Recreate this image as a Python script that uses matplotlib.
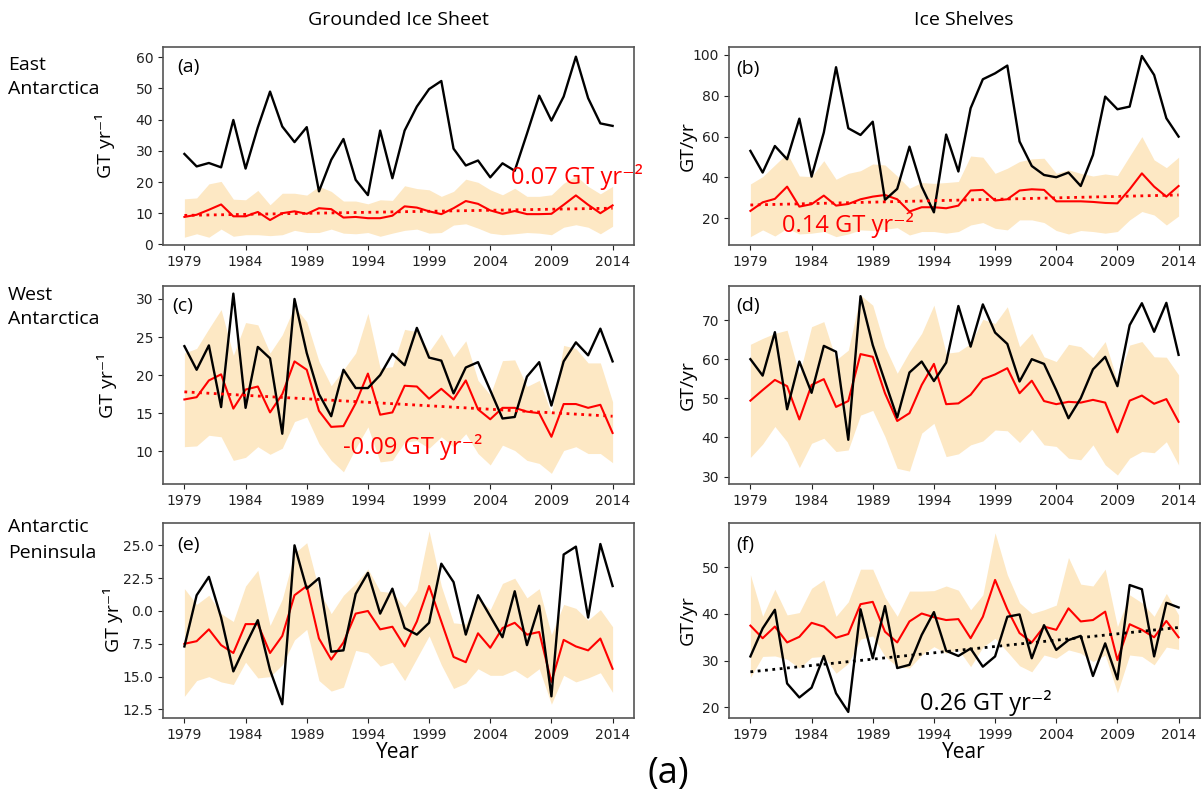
import numpy as np
import matplotlib.pyplot as plt

TXT = ['Open Sans', 'DejaVu Sans']

years = list(range(1979, 2015))
xticks = [1979, 1984, 1989, 1994, 1999, 2004, 2009, 2014]

# (a) East Antarctica, grounded ice sheet
a_black = [29.0, 25.0, 26.1, 24.7, 39.9, 24.3, 37.5, 49.0, 37.8, 32.8, 37.6, 17.0,
           27.1, 33.8, 20.7, 15.8, 36.5, 21.2, 36.5, 44.2, 49.8, 52.4, 30.7, 25.3,
           26.9, 21.5, 26.0, 23.6, 35.5, 47.7, 39.7, 47.4, 60.2, 46.9, 38.8, 38.0]
a_red = [8.8, 9.5, 11.1, 12.8, 9.0, 9.0, 10.4, 7.8, 10.0, 10.6, 9.8, 11.6,
         11.3, 8.6, 8.8, 8.4, 8.4, 9.2, 12.2, 11.8, 10.6, 9.7, 11.6, 13.9,
         13.0, 10.9, 9.8, 10.7, 9.7, 9.7, 9.8, 12.7, 15.7, 12.7, 10.0, 12.5]
a_hi = [14.6, 14.9, 19.4, 20.2, 14.5, 14.3, 17.3, 12.7, 16.4, 16.4, 15.8, 18.6,
        17.0, 13.9, 13.9, 13.0, 14.3, 14.1, 18.8, 17.9, 17.5, 15.4, 17.0, 20.9,
        19.9, 17.5, 15.9, 18.0, 15.4, 15.4, 15.9, 19.6, 22.0, 18.6, 16.2, 18.6]
a_lo = [2.3, 3.4, 2.3, 4.9, 2.6, 3.1, 3.1, 2.8, 3.1, 4.5, 3.8, 3.8,
        4.9, 3.6, 3.4, 3.8, 2.6, 3.6, 4.5, 4.9, 3.6, 3.8, 6.2, 6.6,
        5.2, 3.6, 3.1, 3.4, 3.8, 3.6, 3.1, 5.5, 6.3, 5.5, 3.4, 5.8]
a_trend = [9.3, 11.6]

# (b) East Antarctica, ice shelves
b_black = [53.0, 42.4, 55.4, 48.9, 68.8, 40.4, 62.0, 94.0, 64.1, 60.8, 67.3, 29.0,
           34.4, 55.1, 35.5, 22.9, 61.0, 42.9, 73.9, 88.1, 91.0, 94.8, 57.6, 45.6,
           41.2, 40.1, 42.4, 35.8, 51.0, 79.6, 73.4, 74.7, 99.5, 90.2, 69.0, 60.0]
b_red = [23.6, 27.8, 29.5, 35.5, 25.7, 26.9, 31.1, 26.2, 27.0, 29.3, 30.6, 31.4,
         29.3, 23.3, 25.4, 25.4, 24.9, 26.2, 33.6, 33.9, 28.7, 29.3, 33.6, 34.2,
         33.9, 28.3, 28.3, 28.3, 28.0, 27.5, 27.3, 34.2, 42.0, 35.5, 30.6, 35.8]
b_hi = [36.8, 40.4, 46.1, 51.8, 40.7, 40.4, 48.2, 39.1, 42.0, 43.3, 46.6, 46.1,
        40.7, 34.7, 37.5, 37.1, 37.5, 38.0, 50.5, 49.9, 42.0, 44.5, 47.8, 49.1,
        49.4, 42.0, 43.7, 42.0, 40.7, 41.7, 40.9, 50.5, 60.0, 48.6, 44.8, 49.9]
b_lo = [11.0, 14.3, 11.3, 15.1, 12.3, 12.7, 13.5, 11.0, 12.3, 14.3, 14.0, 14.6,
        15.4, 11.8, 13.5, 13.5, 12.7, 13.5, 16.7, 17.9, 15.1, 14.3, 19.2, 19.2,
        17.9, 14.0, 12.3, 14.0, 13.5, 12.7, 13.5, 19.2, 23.3, 21.6, 16.7, 21.1]
b_trend = [26.5, 31.4]

# (c) West Antarctica, grounded ice sheet
c_black = [23.8, 20.7, 23.9, 15.8, 30.7, 15.7, 23.7, 22.2, 12.3, 30.0, 22.9, 17.5,
           14.6, 20.7, 18.3, 18.3, 20.0, 22.8, 21.3, 26.2, 22.3, 21.9, 17.6, 21.0,
           21.7, 18.0, 14.3, 14.5, 19.8, 21.7, 16.0, 21.8, 24.3, 22.6, 26.1, 21.8]
c_red = [16.8, 17.1, 19.3, 20.1, 15.6, 18.1, 18.5, 15.1, 17.5, 21.8, 20.7, 15.3,
         13.2, 13.3, 16.3, 20.2, 14.8, 15.1, 18.6, 18.5, 16.9, 18.2, 16.8, 19.3,
         15.5, 14.2, 15.7, 15.7, 15.2, 15.0, 11.9, 16.2, 16.2, 15.7, 16.1, 12.4]
c_hi = [22.9, 23.5, 26.1, 28.6, 22.6, 26.9, 26.6, 22.9, 25.3, 29.0, 27.0, 21.8,
        18.6, 20.7, 22.9, 28.1, 20.9, 21.1, 26.0, 25.7, 23.1, 25.4, 22.4, 24.5,
        19.3, 17.4, 21.9, 22.0, 18.5, 19.3, 15.0, 23.9, 23.5, 21.6, 21.6, 16.5]
c_lo = [10.6, 10.7, 12.1, 11.9, 8.8, 9.2, 10.6, 9.6, 10.4, 13.9, 14.5, 11.0,
        8.8, 7.3, 10.4, 13.2, 8.6, 8.8, 11.2, 11.4, 10.4, 11.9, 10.6, 12.3,
        9.7, 8.2, 10.8, 10.1, 8.8, 8.4, 7.1, 10.1, 10.6, 9.7, 9.7, 8.5]
c_trend = [17.8, 14.6]

# (d) West Antarctica, ice shelves
d_black = [60.0, 55.8, 66.9, 47.2, 59.4, 51.4, 63.4, 61.9, 39.4, 76.1, 63.6, 54.3,
           45.1, 56.6, 59.4, 54.4, 59.1, 73.6, 63.2, 74.0, 66.8, 63.9, 54.3, 60.0,
           58.8, 52.1, 44.9, 50.0, 57.4, 60.6, 53.1, 68.7, 74.3, 67.0, 74.4, 61.1]
d_red = [49.4, 52.1, 54.7, 53.1, 44.6, 53.4, 54.9, 47.8, 49.3, 61.3, 60.6, 51.3,
         44.2, 46.2, 53.4, 58.8, 48.5, 48.7, 50.9, 54.9, 56.1, 57.7, 51.3, 54.5,
         49.3, 48.5, 49.1, 48.9, 49.6, 48.9, 41.3, 49.4, 50.7, 48.6, 49.8, 44.0]
d_hi = [63.8, 65.3, 66.6, 67.4, 56.0, 68.3, 69.6, 59.8, 62.3, 76.4, 73.8, 63.2,
        56.4, 61.9, 66.6, 73.8, 61.5, 61.9, 64.0, 70.2, 69.1, 73.4, 63.2, 66.6,
        60.6, 59.4, 63.8, 63.2, 60.4, 64.5, 54.3, 63.6, 64.5, 60.6, 60.5, 56.0]
d_lo = [34.9, 38.3, 42.8, 38.9, 32.3, 38.5, 39.8, 36.4, 36.8, 45.7, 46.9, 40.2,
        32.1, 31.4, 41.1, 43.6, 35.1, 35.8, 38.1, 39.1, 41.9, 41.7, 38.7, 42.1,
        38.1, 37.7, 34.7, 34.3, 38.1, 33.0, 30.4, 34.7, 36.4, 36.1, 38.9, 33.0]

# (e) Antarctic Peninsula, grounded ice sheet
e_black = [17.3, 21.2, 22.6, 19.5, 15.4, 17.4, 19.3, 15.5, 12.9, 25.0, 21.7, 22.5,
           16.9, 17.0, 21.3, 22.9, 19.8, 21.7, 18.7, 18.2, 19.1, 23.6, 22.2, 18.2,
           21.2, 19.6, 18.0, 21.5, 17.4, 20.4, 13.5, 24.3, 24.9, 19.5, 25.1, 21.9]
e_red = [17.5, 17.7, 18.6, 17.4, 16.8, 19.0, 19.0, 16.8, 18.1, 21.2, 21.9, 17.9,
         16.3, 17.6, 19.8, 20.0, 18.6, 18.8, 17.3, 19.2, 21.9, 19.2, 16.5, 16.1,
         18.3, 17.2, 18.7, 19.1, 18.2, 18.4, 14.6, 17.8, 17.3, 17.0, 17.9, 15.6]
e_hi = [21.7, 20.5, 21.2, 19.8, 19.2, 21.9, 23.1, 18.9, 20.9, 24.4, 25.2, 21.6,
        19.8, 21.2, 22.1, 23.2, 21.5, 21.4, 20.3, 21.6, 26.1, 21.9, 19.1, 19.0,
        21.0, 20.1, 22.1, 22.5, 21.0, 21.7, 18.2, 20.5, 20.2, 19.3, 20.1, 18.8]
e_lo = [13.5, 14.7, 15.0, 14.6, 14.4, 16.1, 14.9, 15.0, 15.9, 17.8, 18.6, 14.7,
        13.9, 14.2, 17.0, 16.8, 15.8, 16.1, 14.7, 16.4, 18.1, 15.9, 14.1, 14.5,
        15.6, 15.1, 15.1, 15.5, 14.9, 15.6, 12.9, 15.1, 14.6, 14.9, 15.3, 13.8]
e_ticks = [12.5, 15.0, 17.5, 20.0, 22.5, 25.0]
e_ticklabels = ['12.5', '15.0', '7.5', '0.0', '22.5', '25.0']

# (f) Antarctic Peninsula, ice shelves
f_black = [30.9, 36.9, 40.9, 25.1, 22.1, 24.2, 31.0, 23.0, 19.0, 41.0, 30.5, 41.7,
           28.4, 29.1, 35.5, 40.4, 32.1, 31.0, 32.6, 28.7, 30.9, 39.4, 39.9, 30.5,
           37.6, 32.3, 34.4, 35.3, 26.7, 33.7, 26.0, 46.2, 45.3, 30.9, 42.4, 41.4]
f_red = [37.5, 34.8, 37.3, 33.9, 35.1, 38.1, 37.3, 34.9, 35.7, 42.1, 42.6, 36.2,
         33.9, 38.4, 40.1, 39.3, 38.7, 38.9, 34.8, 39.4, 47.3, 41.0, 35.9, 33.9,
         37.3, 36.6, 41.2, 38.4, 38.7, 40.5, 30.1, 37.8, 36.6, 35.0, 38.5, 35.0]
f_hi = [48.4, 39.5, 45.3, 39.8, 40.3, 45.5, 47.3, 39.5, 42.6, 49.6, 49.6, 43.6,
        39.5, 44.9, 44.9, 45.0, 46.0, 45.1, 40.9, 44.1, 57.4, 48.4, 42.4, 40.1,
        40.9, 41.9, 52.1, 46.4, 46.0, 49.6, 37.3, 44.1, 42.4, 39.5, 44.4, 39.8]
f_lo = [26.4, 30.9, 31.0, 30.3, 28.4, 30.7, 30.9, 27.3, 29.4, 34.6, 35.3, 30.9,
        28.7, 28.4, 31.2, 33.0, 31.6, 32.4, 28.7, 32.9, 34.8, 31.9, 28.9, 27.6,
        31.2, 30.5, 32.3, 31.6, 29.8, 31.2, 23.1, 31.2, 30.9, 29.1, 32.9, 32.4]
f_trend = [27.6, 37.1]

trend_years = [1979, 2014]

W, H = 1201, 796
fig = plt.figure(figsize=(12.01, 7.96), dpi=100)


def add_ax(left, top, right, bottom):
    return fig.add_axes([left / W, 1 - bottom / H, (right - left) / W, (bottom - top) / H])


def ftext(x, y, s, **kw):
    # text placed in figure pixels, measured from the top-left corner
    fig.text(x / W, 1 - y / H, s, family=TXT, **kw)


FILL = '#fde8c4'


def panel(ax, black, red, hi, lo, ylim, yticks, letter, lpos):
    ax.fill_between(years, lo, hi, color=FILL, lw=0)
    ax.plot(years, red, color='red', lw=1.5)
    ax.plot(years, black, color='black', lw=1.7)
    ax.set_ylim(*ylim)
    ax.set_yticks(yticks)
    ax.set_xticks(xticks)
    ax.tick_params(labelsize=10, colors='#222222', length=3.5)
    for s in ax.spines.values():
        s.set_color('#555555')
        s.set_linewidth(1.2)
    ax.text(lpos[0], lpos[1], letter, transform=ax.transAxes, fontsize=14,
            family=TXT, va='center', ha='left')


LX0, LX1 = 163, 634
RX0, RX1 = 729, 1200
rows = [(47, 245), (286, 484), (523, 718)]

ax_a = add_ax(LX0, rows[0][0], LX1, rows[0][1])
panel(ax_a, a_black, a_red, a_hi, a_lo, (-0.2, 63.3), [0, 10, 20, 30, 40, 50, 60], '(a)', (0.03, 0.9))
ax_a.plot(trend_years, a_trend, color='red', ls=':', lw=2)

ax_b = add_ax(RX0, rows[0][0], RX1, rows[0][1])
panel(ax_b, b_black, b_red, b_hi, b_lo, (6.9, 103.9), [20, 40, 60, 80, 100], '(b)', (0.015, 0.89))
ax_b.plot(trend_years, b_trend, color='red', ls=':', lw=2)

ax_c = add_ax(LX0, rows[1][0], LX1, rows[1][1])
panel(ax_c, c_black, c_red, c_hi, c_lo, (5.7, 31.7), [10, 15, 20, 25, 30], '(c)', (0.02, 0.9))
ax_c.plot(trend_years, c_trend, color='red', ls=':', lw=2)

ax_d = add_ax(RX0, rows[1][0], RX1, rows[1][1])
panel(ax_d, d_black, d_red, d_hi, d_lo, (28.1, 78.7), [30, 40, 50, 60, 70], '(d)', (0.015, 0.9))

ax_e = add_ax(LX0, rows[2][0], LX1, rows[2][1])
panel(ax_e, e_black, e_red, e_hi, e_lo, (11.85, 26.7), e_ticks, '(e)', (0.03, 0.887))
ax_e.set_yticklabels(e_ticklabels)

ax_f = add_ax(RX0, rows[2][0], RX1, rows[2][1])
panel(ax_f, f_black, f_red, f_hi, f_lo, (17.7, 59.5), [20, 30, 40, 50], '(f)', (0.015, 0.887))
ax_f.plot(trend_years, f_trend, color='black', ls=':', lw=2)

# trend annotations
ftext(511, 177, '0.07 GT yr⁻²', color='red', fontsize=17, va='center')
ftext(782, 225, '0.14 GT yr⁻²', color='red', fontsize=17, va='center')
ftext(343, 447, '-0.09 GT yr⁻²', color='red', fontsize=17, va='center')
ftext(920, 703, '0.26 GT yr⁻²', color='black', fontsize=17, va='center')

# column titles and row labels
ftext(398, 20, 'Grounded Ice Sheet', fontsize=14, ha='center', va='center')
ftext(964, 20, 'Ice Shelves', fontsize=14, ha='center', va='center')
ftext(8, 77, 'East\nAntarctica', fontsize=14, ha='left', va='center', linespacing=1.5)
ftext(8, 307, 'West\nAntarctica', fontsize=14, ha='left', va='center', linespacing=1.5)
ftext(8, 540, 'Antarctic\nPeninsula', fontsize=14, ha='left', va='center', linespacing=1.5)

# y labels
ftext(105, 146, 'GT yr⁻¹', fontsize=14, rotation=90, ha='center', va='center')
ftext(107, 385, 'GT yr⁻¹', fontsize=14, rotation=90, ha='center', va='center')
ftext(113, 620, 'GT yr⁻¹', fontsize=14, rotation=90, ha='center', va='center')
for yc in [146, 385, 620]:
    ftext(688, yc, 'GT/yr', fontsize=14, rotation=90, ha='center', va='center')

# x labels and figure tag
ftext(398, 752, 'Year', fontsize=15, ha='center', va='center')
ftext(964, 752, 'Year', fontsize=15, ha='center', va='center')
ftext(668, 774, '(a)', fontsize=26, ha='center', va='center')

fig.savefig('out.png', dpi=100, facecolor='white')
